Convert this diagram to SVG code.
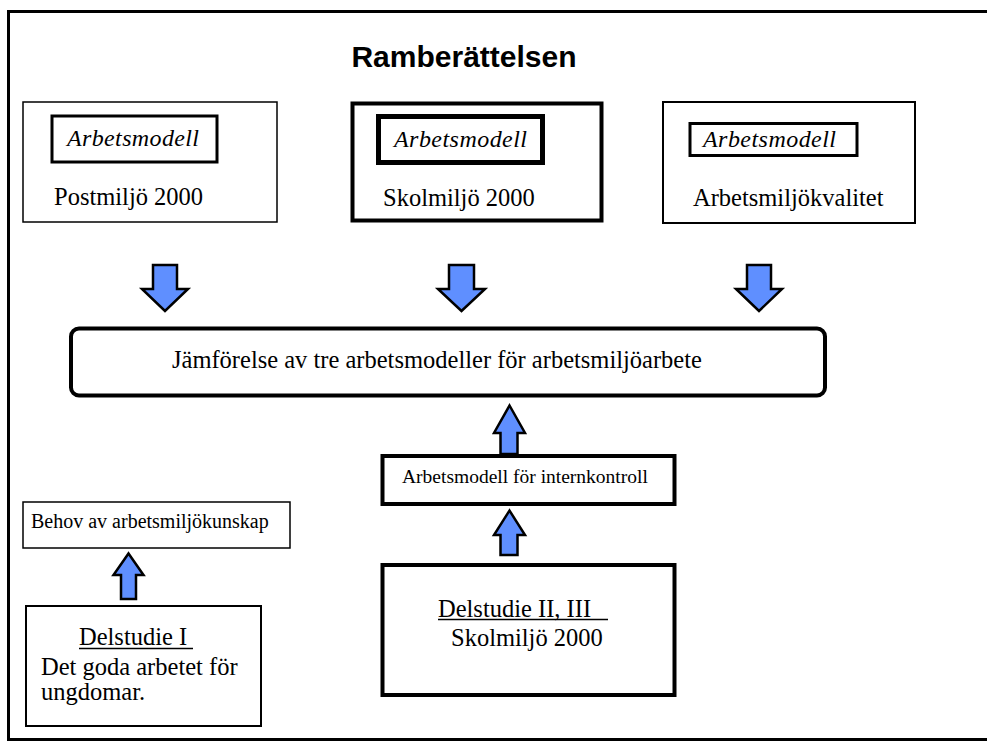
<svg xmlns="http://www.w3.org/2000/svg" width="987" height="742" viewBox="0 0 987 742">
<defs>
<style>
.frame{fill:none;stroke:#000;stroke-width:3}
.box{fill:#fff;stroke:#000}
.t{font-family:"Liberation Serif","Times New Roman",serif;fill:#000}
.lg{font-size:24.5px}
.sm{font-size:19.5px}
.it{font-style:italic;font-size:24px}
.title{font-family:"Liberation Sans",Arial,sans-serif;font-weight:bold;font-size:30px;fill:#000}
.arrow{fill:#5f8fff;stroke:#000;stroke-width:2.5;stroke-linejoin:miter}
.ul{stroke:#000;stroke-width:1.5}
</style>
</defs>
<rect width="987" height="742" fill="#fff"/>
<rect class="frame" x="8.5" y="11.5" width="1000" height="728"/>
<text class="title" x="464" y="66.5" text-anchor="middle">Ramberättelsen</text>

<g id="postmiljo">
<rect class="box" x="23" y="102" width="254" height="120" stroke-width="1.5"/>
<rect class="box" x="52" y="116" width="165" height="46" stroke-width="3"/>
<text class="t it" x="67" y="146" textLength="132">Arbetsmodell</text>
<text class="t lg" x="54" y="205">Postmiljö 2000</text>
</g>

<g id="skolmiljo">
<rect class="box" x="352.5" y="103.5" width="249" height="117" stroke-width="4"/>
<rect class="box" x="378.5" y="116.5" width="164" height="46" stroke-width="5"/>
<text class="t it" x="394" y="147" textLength="133">Arbetsmodell</text>
<text class="t lg" x="383" y="206">Skolmiljö 2000</text>
</g>

<g id="arbetsmiljokvalitet">
<rect class="box" x="663" y="102" width="252" height="121" stroke-width="2"/>
<rect class="box" x="690" y="123.5" width="167" height="32" stroke-width="3"/>
<text class="t it" x="703" y="147" textLength="133">Arbetsmodell</text>
<text class="t lg" x="693" y="206">Arbetsmiljökvalitet</text>
</g>

<g id="jamforelse">
<rect class="box" x="71" y="328.5" width="754" height="67" rx="8" stroke-width="4"/>
<text class="t lg" x="172" y="368">Jämförelse av tre arbetsmodeller för arbetsmiljöarbete</text>
</g>

<g id="internkontroll">
<rect class="box" x="382.5" y="456" width="292" height="48" stroke-width="4"/>
<text class="t sm" x="402" y="483">Arbetsmodell för internkontroll</text>
</g>

<g id="delstudie23">
<rect class="box" x="382.5" y="565" width="292" height="130" stroke-width="4"/>
<text class="t lg" x="438" y="616.5">Delstudie II, III</text>
<line class="ul" x1="438" y1="619.5" x2="608" y2="619.5"/>
<text class="t lg" x="451" y="646">Skolmiljö 2000</text>
</g>

<g id="behov">
<rect class="box" x="23" y="502" width="267" height="46" stroke-width="1.5"/>
<text class="t" font-size="20" x="31" y="528">Behov av arbetsmiljökunskap</text>
</g>

<g id="delstudie1">
<rect class="box" x="26" y="606" width="235" height="120" stroke-width="2"/>
<text class="t lg" x="79" y="645">Delstudie I</text>
<line class="ul" x1="79" y1="648.5" x2="193" y2="648.5"/>
<text class="t lg" x="41" y="675">Det goda arbetet för</text>
<text class="t lg" x="41" y="700">ungdomar.</text>
</g>

<g id="connectors">
<path class="arrow" d="M153,265 H177 V289 H188 L165,311 L142,289 H153 Z"/>
<path class="arrow" d="M449,265 H474 V289 H485 L461.5,311 L438,289 H449 Z"/>
<path class="arrow" d="M747,265 H771 V289 H782 L759,311 L736,289 H747 Z"/>
<path class="arrow" d="M500.5,454 V433 H494 L509.5,405.5 L525,433 H517.5 V454 Z"/>
<path class="arrow" d="M500.5,555 V535 H494 L509.5,510.5 L525,535 H517.5 V555 Z"/>
<path class="arrow" d="M121,599 V575 H113.5 L128.5,553.5 L143.5,575 H136 V599 Z"/>
</g>
</svg>
